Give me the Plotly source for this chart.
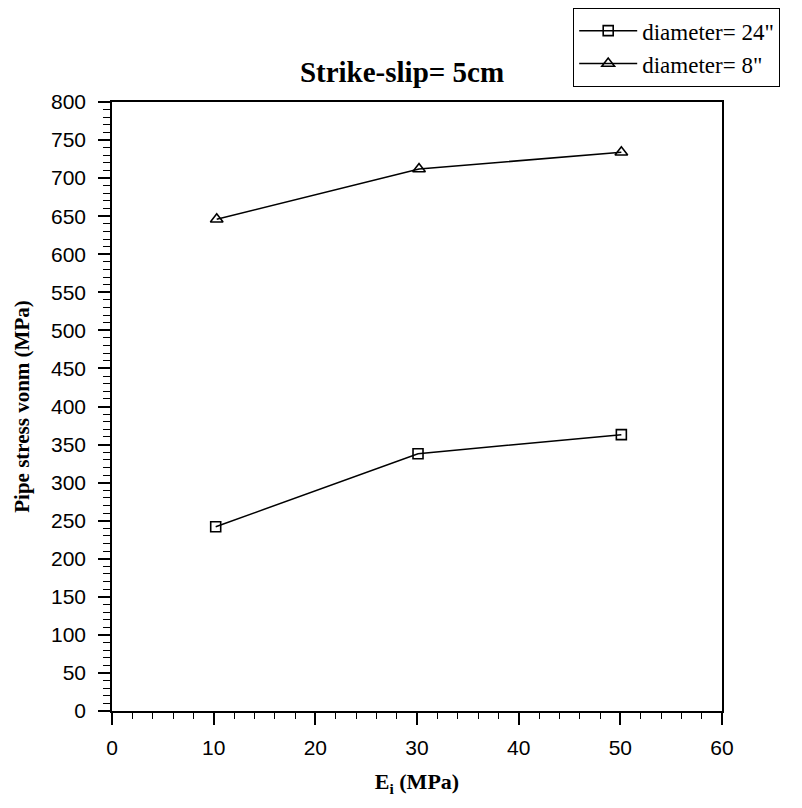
import plotly.graph_objects as go

x_24 = [10.2, 30.1, 50.1]
y_24 = [242, 338, 363]
x_8 = [10.3, 30.2, 50.1]
y_8 = [646, 712, 734]
series_names = ['diameter= 24"', 'diameter= 8"']
title_text = "Strike-slip= 5cm"
x_title = "E<sub>i</sub> (MPa)"
y_title = "Pipe stress vonm (MPa)"

SERIF = "Liberation Serif, Times New Roman, serif"
SANS = "Liberation Sans, Arial, sans-serif"

fig = go.Figure()
fig.add_trace(go.Scatter(x=x_24, y=y_24, mode="lines+markers", name=series_names[0],
                         line=dict(color="black", width=1.5),
                         marker=dict(symbol="square-open", size=10, color="black", line=dict(width=1.6))))
fig.add_trace(go.Scatter(x=x_8, y=y_8, mode="lines+markers", name=series_names[1],
                         line=dict(color="black", width=1.5),
                         marker=dict(symbol="triangle-up-open", size=11, color="black", line=dict(width=1.6))))

axis_common = dict(showline=True, linecolor="black", linewidth=1.6, mirror=True,
                   ticks="outside", tickcolor="black", tickwidth=1.6, ticklen=12,
                   showgrid=False, zeroline=False,
                   tickfont=dict(family=SANS, size=21, color="black"))

fig.update_xaxes(range=[0, 60], tick0=0, dtick=10, ticklabelstandoff=5,
                 minor=dict(ticks="outside", dtick=2, ticklen=6, tickcolor="black", tickwidth=1.3),
                 title=dict(text="<b>" + x_title + "</b>", font=dict(family=SERIF, size=22, color="black"), standoff=16),
                 **axis_common)
fig.update_yaxes(range=[0, 800], tick0=0, dtick=50, ticklabelstandoff=8,
                 minor=dict(ticks="outside", dtick=10, ticklen=7, tickcolor="black", tickwidth=1.3),
                 title=dict(text="<b>" + y_title + "</b>", font=dict(family=SERIF, size=21, color="black"), standoff=16),
                 **axis_common)

fig.update_layout(
    width=794, height=800,
    margin=dict(l=104, r=80, t=94, b=97, autoexpand=False),
    paper_bgcolor="white", plot_bgcolor="white",
    title=dict(text="<b>" + title_text + "</b>", x=(402 - 8) / 794, xanchor="center",
               y=1 - (72 - 8) / 800, yanchor="middle",
               font=dict(family=SERIF, size=29, color="black")),
    legend=dict(x=(573 - 112) / 610, y=1 + 94 / 609, xanchor="left", yanchor="top",
                bordercolor="black", borderwidth=1.2, bgcolor="white",
                font=dict(family=SERIF, size=23, color="black"),
                tracegroupgap=0, itemwidth=58),
    showlegend=True,
)

fig.write_html("out.html")
